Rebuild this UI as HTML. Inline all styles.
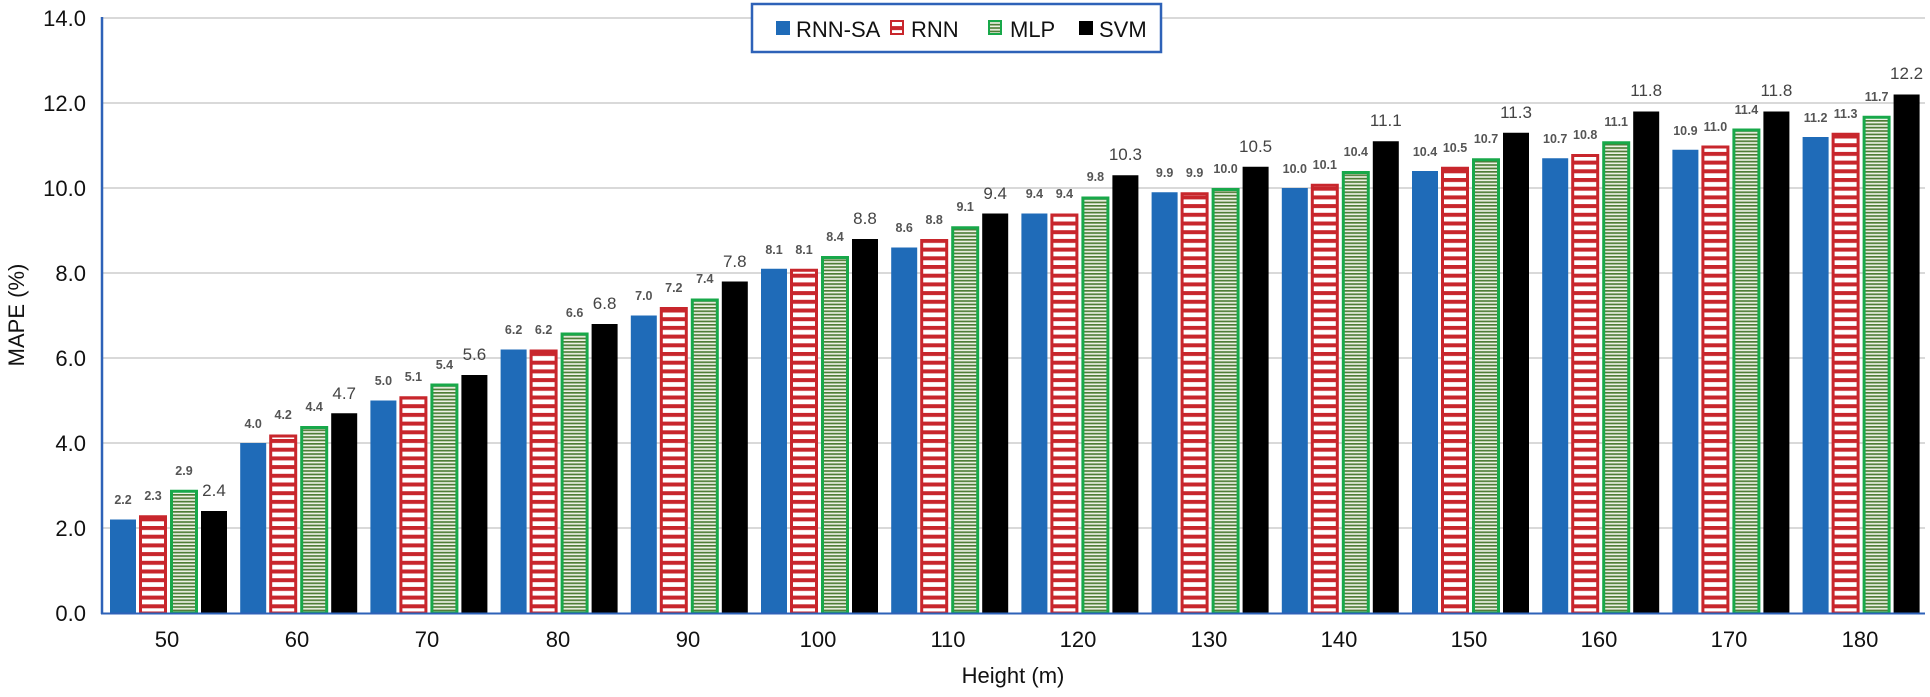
<!DOCTYPE html>
<html><head><meta charset="utf-8"><style>
body{margin:0;background:#fff}
svg{display:block;font-family:"Liberation Sans",sans-serif}
.s{font-size:12.5px;font-weight:bold;fill:#555;text-anchor:middle}
.b{font-size:17px;fill:#444;text-anchor:middle}
</style></head><body>
<svg width="1930" height="697" viewBox="0 0 1930 697">
<defs>
<pattern id="r" patternUnits="userSpaceOnUse" width="10" height="8.7"><rect width="10" height="8.7" fill="#fff"/><rect width="10" height="4" fill="#c8262c"/></pattern>
<pattern id="g" patternUnits="userSpaceOnUse" width="10" height="3.4"><rect width="10" height="3.4" fill="#eef2e6"/><rect width="10" height="1.7" fill="#4f7d37"/></pattern>
</defs>
<g stroke="#d9d9d9" stroke-width="2">
<line x1="102" x2="1925" y1="18" y2="18"/><line x1="102" x2="1925" y1="103" y2="103"/><line x1="102" x2="1925" y1="188" y2="188"/><line x1="102" x2="1925" y1="273" y2="273"/><line x1="102" x2="1925" y1="358" y2="358"/><line x1="102" x2="1925" y1="443" y2="443"/><line x1="102" x2="1925" y1="528" y2="528"/>
</g>
<g font-size="22" fill="#111" text-anchor="end">
<text x="86" y="26">14.0</text><text x="86" y="111">12.0</text><text x="86" y="196">10.0</text><text x="86" y="281">8.0</text><text x="86" y="366">6.0</text><text x="86" y="451">4.0</text><text x="86" y="536">2.0</text><text x="86" y="621">0.0</text>
</g>
<text transform="translate(24,315) rotate(-90)" font-size="22" text-anchor="middle" fill="#111">MAPE (%)</text>
<text x="1013" y="683" font-size="22" text-anchor="middle" fill="#111">Height (m)</text>
<g font-size="22" fill="#111" text-anchor="middle">
<text x="167" y="647">50</text><text x="297" y="647">60</text><text x="427" y="647">70</text><text x="558" y="647">80</text><text x="688" y="647">90</text><text x="818" y="647">100</text><text x="948" y="647">110</text><text x="1078" y="647">120</text><text x="1209" y="647">130</text><text x="1339" y="647">140</text><text x="1469" y="647">150</text><text x="1599" y="647">160</text><text x="1729" y="647">170</text><text x="1860" y="647">180</text>
</g>

<g transform="translate(167,613)"><rect x="-57" y="-93.5" width="26" height="93.5" fill="#1f6bb8"/><rect x="-26.5" y="-96.25" width="25" height="96.25" fill="url(#r)" stroke="#c8262c" stroke-width="3"/><rect x="4.5" y="-121.75" width="25" height="121.75" fill="url(#g)" stroke="#18a84a" stroke-width="3"/><rect x="34" y="-102" width="26" height="102" fill="#000"/><text class="s" x="-44" y="-109">2.2</text><text class="s" x="-14" y="-113">2.3</text><text class="s" x="17" y="-138">2.9</text><text class="b" x="47" y="-117">2.4</text></g>
<g transform="translate(297.2,613)"><rect x="-57" y="-170" width="26" height="170" fill="#1f6bb8"/><rect x="-26.5" y="-177" width="25" height="177" fill="url(#r)" stroke="#c8262c" stroke-width="3"/><rect x="4.5" y="-185.5" width="25" height="185.5" fill="url(#g)" stroke="#18a84a" stroke-width="3"/><rect x="34" y="-199.75" width="26" height="199.75" fill="#000"/><text class="s" x="-44" y="-185">4.0</text><text class="s" x="-14" y="-194">4.2</text><text class="s" x="17" y="-202">4.4</text><text class="b" x="47" y="-214">4.7</text></g>
<g transform="translate(427.4,613)"><rect x="-57" y="-212.5" width="26" height="212.5" fill="#1f6bb8"/><rect x="-26.5" y="-215.25" width="25" height="215.25" fill="url(#r)" stroke="#c8262c" stroke-width="3"/><rect x="4.5" y="-228" width="25" height="228" fill="url(#g)" stroke="#18a84a" stroke-width="3"/><rect x="34" y="-238" width="26" height="238" fill="#000"/><text class="s" x="-44" y="-228">5.0</text><text class="s" x="-14" y="-232">5.1</text><text class="s" x="17" y="-244">5.4</text><text class="b" x="47" y="-253">5.6</text></g>
<g transform="translate(557.6,613)"><rect x="-57" y="-263.5" width="26" height="263.5" fill="#1f6bb8"/><rect x="-26.5" y="-262" width="25" height="262" fill="url(#r)" stroke="#c8262c" stroke-width="3"/><rect x="4.5" y="-279" width="25" height="279" fill="url(#g)" stroke="#18a84a" stroke-width="3"/><rect x="34" y="-289" width="26" height="289" fill="#000"/><text class="s" x="-44" y="-279">6.2</text><text class="s" x="-14" y="-279">6.2</text><text class="s" x="17" y="-296">6.6</text><text class="b" x="47" y="-304">6.8</text></g>
<g transform="translate(687.8,613)"><rect x="-57" y="-297.5" width="26" height="297.5" fill="#1f6bb8"/><rect x="-26.5" y="-304.5" width="25" height="304.5" fill="url(#r)" stroke="#c8262c" stroke-width="3"/><rect x="4.5" y="-313" width="25" height="313" fill="url(#g)" stroke="#18a84a" stroke-width="3"/><rect x="34" y="-331.5" width="26" height="331.5" fill="#000"/><text class="s" x="-44" y="-313">7.0</text><text class="s" x="-14" y="-321">7.2</text><text class="s" x="17" y="-330">7.4</text><text class="b" x="47" y="-346">7.8</text></g>
<g transform="translate(818,613)"><rect x="-57" y="-344.25" width="26" height="344.25" fill="#1f6bb8"/><rect x="-26.5" y="-342.75" width="25" height="342.75" fill="url(#r)" stroke="#c8262c" stroke-width="3"/><rect x="4.5" y="-355.5" width="25" height="355.5" fill="url(#g)" stroke="#18a84a" stroke-width="3"/><rect x="34" y="-374" width="26" height="374" fill="#000"/><text class="s" x="-44" y="-359">8.1</text><text class="s" x="-14" y="-359">8.1</text><text class="s" x="17" y="-372">8.4</text><text class="b" x="47" y="-389">8.8</text></g>
<g transform="translate(948.2,613)"><rect x="-57" y="-365.5" width="26" height="365.5" fill="#1f6bb8"/><rect x="-26.5" y="-372.5" width="25" height="372.5" fill="url(#r)" stroke="#c8262c" stroke-width="3"/><rect x="4.5" y="-385.25" width="25" height="385.25" fill="url(#g)" stroke="#18a84a" stroke-width="3"/><rect x="34" y="-399.5" width="26" height="399.5" fill="#000"/><text class="s" x="-44" y="-381">8.6</text><text class="s" x="-14" y="-389">8.8</text><text class="s" x="17" y="-402">9.1</text><text class="b" x="47" y="-414">9.4</text></g>
<g transform="translate(1078.4,613)"><rect x="-57" y="-399.5" width="26" height="399.5" fill="#1f6bb8"/><rect x="-26.5" y="-398" width="25" height="398" fill="url(#r)" stroke="#c8262c" stroke-width="3"/><rect x="4.5" y="-415" width="25" height="415" fill="url(#g)" stroke="#18a84a" stroke-width="3"/><rect x="34" y="-437.75" width="26" height="437.75" fill="#000"/><text class="s" x="-44" y="-415">9.4</text><text class="s" x="-14" y="-415">9.4</text><text class="s" x="17" y="-432">9.8</text><text class="b" x="47" y="-453">10.3</text></g>
<g transform="translate(1208.6,613)"><rect x="-57" y="-420.75" width="26" height="420.75" fill="#1f6bb8"/><rect x="-26.5" y="-419.25" width="25" height="419.25" fill="url(#r)" stroke="#c8262c" stroke-width="3"/><rect x="4.5" y="-423.5" width="25" height="423.5" fill="url(#g)" stroke="#18a84a" stroke-width="3"/><rect x="34" y="-446.25" width="26" height="446.25" fill="#000"/><text class="s" x="-44" y="-436">9.9</text><text class="s" x="-14" y="-436">9.9</text><text class="s" x="17" y="-440">10.0</text><text class="b" x="47" y="-461">10.5</text></g>
<g transform="translate(1338.8,613)"><rect x="-57" y="-425" width="26" height="425" fill="#1f6bb8"/><rect x="-26.5" y="-427.75" width="25" height="427.75" fill="url(#r)" stroke="#c8262c" stroke-width="3"/><rect x="4.5" y="-440.5" width="25" height="440.5" fill="url(#g)" stroke="#18a84a" stroke-width="3"/><rect x="34" y="-471.75" width="26" height="471.75" fill="#000"/><text class="s" x="-44" y="-440">10.0</text><text class="s" x="-14" y="-444">10.1</text><text class="s" x="17" y="-457">10.4</text><text class="b" x="47" y="-487">11.1</text></g>
<g transform="translate(1469,613)"><rect x="-57" y="-442" width="26" height="442" fill="#1f6bb8"/><rect x="-26.5" y="-444.75" width="25" height="444.75" fill="url(#r)" stroke="#c8262c" stroke-width="3"/><rect x="4.5" y="-453.25" width="25" height="453.25" fill="url(#g)" stroke="#18a84a" stroke-width="3"/><rect x="34" y="-480.25" width="26" height="480.25" fill="#000"/><text class="s" x="-44" y="-457">10.4</text><text class="s" x="-14" y="-461">10.5</text><text class="s" x="17" y="-470">10.7</text><text class="b" x="47" y="-495">11.3</text></g>
<g transform="translate(1599.2,613)"><rect x="-57" y="-454.75" width="26" height="454.75" fill="#1f6bb8"/><rect x="-26.5" y="-457.5" width="25" height="457.5" fill="url(#r)" stroke="#c8262c" stroke-width="3"/><rect x="4.5" y="-470.25" width="25" height="470.25" fill="url(#g)" stroke="#18a84a" stroke-width="3"/><rect x="34" y="-501.5" width="26" height="501.5" fill="#000"/><text class="s" x="-44" y="-470">10.7</text><text class="s" x="-14" y="-474">10.8</text><text class="s" x="17" y="-487">11.1</text><text class="b" x="47" y="-517">11.8</text></g>
<g transform="translate(1729.4,613)"><rect x="-57" y="-463.25" width="26" height="463.25" fill="#1f6bb8"/><rect x="-26.5" y="-466" width="25" height="466" fill="url(#r)" stroke="#c8262c" stroke-width="3"/><rect x="4.5" y="-483" width="25" height="483" fill="url(#g)" stroke="#18a84a" stroke-width="3"/><rect x="34" y="-501.5" width="26" height="501.5" fill="#000"/><text class="s" x="-44" y="-478">10.9</text><text class="s" x="-14" y="-482">11.0</text><text class="s" x="17" y="-499">11.4</text><text class="b" x="47" y="-517">11.8</text></g>
<g transform="translate(1859.6,613)"><rect x="-57" y="-476" width="26" height="476" fill="#1f6bb8"/><rect x="-26.5" y="-478.75" width="25" height="478.75" fill="url(#r)" stroke="#c8262c" stroke-width="3"/><rect x="4.5" y="-495.75" width="25" height="495.75" fill="url(#g)" stroke="#18a84a" stroke-width="3"/><rect x="34" y="-518.5" width="26" height="518.5" fill="#000"/><text class="s" x="-44" y="-491">11.2</text><text class="s" x="-14" y="-495">11.3</text><text class="s" x="17" y="-512">11.7</text><text class="b" x="47" y="-534">12.2</text></g>

<line x1="102" y1="17" x2="102" y2="614" stroke="#2e62b8" stroke-width="2.5"/>
<line x1="101" y1="613.5" x2="1925" y1="613.5" y2="613.5" stroke="#2e62b8" stroke-width="2"/>

<rect x="752" y="4" width="409" height="48" fill="#fff" stroke="#2e62b8" stroke-width="2.5"/>
<rect x="776" y="21" width="14" height="14" fill="#1f6bb8"/>
<text x="796" y="37" font-size="22" fill="#111">RNN-SA</text>
<rect x="891" y="21" width="12" height="13" fill="url(#r)" stroke="#c8262c" stroke-width="2"/>
<text x="911" y="37" font-size="22" fill="#111">RNN</text>
<rect x="989" y="21" width="12" height="13" fill="url(#g)" stroke="#18a84a" stroke-width="2"/>
<text x="1010" y="37" font-size="22" fill="#111">MLP</text>
<rect x="1079" y="21" width="14" height="14" fill="#000"/>
<text x="1099" y="37" font-size="22" fill="#111">SVM</text>
</svg>
</body></html>
